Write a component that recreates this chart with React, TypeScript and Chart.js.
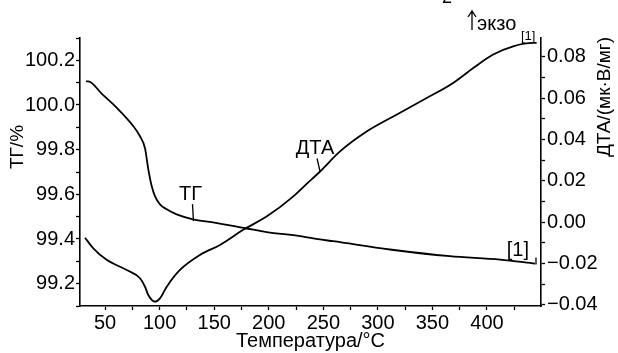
import React, { useEffect, useRef } from "react";
import { Chart, registerables } from "chart.js";

Chart.register(...registerables);

// ---- data ----
const tgTemp = [32.5, 34.6, 47, 60.6, 75.9, 82, 86.6, 89.6, 92.7, 95.7, 100.3, 106.5, 115.6, 130.6, 148.9, 179.8, 198.1, 228.6, 247, 259, 311, 366, 412, 444];
const tgVal = [100.106, 100.106, 100.05, 99.988, 99.905, 99.86, 99.806, 99.712, 99.637, 99.592, 99.555, 99.533, 99.51, 99.488, 99.474, 99.447, 99.431, 99.413, 99.398, 99.39, 99.353, 99.323, 99.308, 99.29];

const dtaTemp = [31.6, 39.2, 51.4, 69.8, 82, 86.6, 89.6, 95.7, 100.3, 106.5, 118.6, 137, 155.3, 176.6, 198, 222, 234.7, 247, 265.3, 289.7, 314.1, 344.7, 369, 387.4, 405.7, 424, 442.4, 445.5];
const dtaVal = [-0.0075, -0.0126, -0.0182, -0.0231, -0.0271, -0.0312, -0.0352, -0.0384, -0.0368, -0.0312, -0.0231, -0.0158, -0.011, -0.0037, 0.0027, 0.0122, 0.0185, 0.0245, 0.0342, 0.0438, 0.0511, 0.06, 0.0673, 0.0745, 0.081, 0.085, 0.0866, 0.0866];

const xMin = 27, xMax = 449.5, xStep = 25, xLabelStep = 50;
const tgMin = 99.1, tgMax = 100.3, tgStep = 0.1;
const dtaMin = -0.0405, dtaMax = 0.089, dtaStep = 0.01;

const xTitle = "Температура/°C";
const tgTitle = "ТГ/%";
const dtaTitle = "ДТА/(мк·В/мг)";
const tgLabel = "ТГ";
const dtaLabel = "ДТА";
const tgLabelAt = { x: 131, y: 99.48 };
const dtaLabelAt = { x: 247, y: 0.0245 };
const endLabel = "[1]";
const exoLabel = "экзо";
const exoSub = "[1]";

const FONT = "'Liberation Sans', Arial, sans-serif";

const annotations = {
  id: "annotations",
  afterDraw(chart: any) {
    const ctx = chart.ctx;
    const xs = chart.scales.x;
    const yl = chart.scales.yTG;
    const yr = chart.scales.yDTA;
    const area = chart.chartArea;
    ctx.save();
    ctx.fillStyle = "#000";
    ctx.strokeStyle = "#000";
    ctx.lineWidth = 1.3;

    // axis titles
    ctx.font = `20px ${FONT}`;
    ctx.textAlign = "center";
    ctx.textBaseline = "middle";
    ctx.fillText(xTitle, (area.left + area.right) / 2, 341);

    ctx.save();
    ctx.font = `19px ${FONT}`;
    ctx.translate(18, 147);
    ctx.rotate(-Math.PI / 2);
    ctx.fillText(tgTitle, 0, 0);
    ctx.restore();

    ctx.save();
    ctx.font = `19px ${FONT}`;
    ctx.translate(605, 97);
    ctx.rotate(-Math.PI / 2);
    ctx.fillText(dtaTitle, 0, 0);
    ctx.restore();

    // ТГ label with pointer
    const tx = xs.getPixelForValue(tgLabelAt.x);
    const ty = yl.getPixelForValue(tgLabelAt.y);
    ctx.beginPath();
    ctx.moveTo(tx - 1, ty - 17);
    ctx.lineTo(tx, ty);
    ctx.stroke();
    ctx.font = `20px ${FONT}`;
    ctx.fillText(tgLabel, tx - 3, ty - 27);

    // ДТА label with pointer
    const dx = xs.getPixelForValue(dtaLabelAt.x);
    const dy = yr.getPixelForValue(dtaLabelAt.y);
    ctx.beginPath();
    ctx.moveTo(dx - 3, dy - 13);
    ctx.lineTo(dx, dy);
    ctx.stroke();
    ctx.fillText(dtaLabel, dx - 5, dy - 23);

    // end marker [1]
    const ex = xs.getPixelForValue(tgTemp[tgTemp.length - 1]);
    const ey = yl.getPixelForValue(tgVal[tgVal.length - 1]);
    ctx.beginPath();
    ctx.moveTo(ex + 1, ey - 6);
    ctx.lineTo(ex + 1, ey + 1);
    ctx.stroke();
    ctx.textAlign = "right";
    ctx.textBaseline = "alphabetic";
    ctx.fillText(endLabel, ex - 6, ey - 8);

    // exo arrow
    ctx.textAlign = "left";
    ctx.beginPath();
    ctx.moveTo(472, 30);
    ctx.lineTo(472, 12);
    ctx.moveTo(468, 17);
    ctx.lineTo(472, 11);
    ctx.lineTo(476, 17);
    ctx.stroke();
    ctx.font = `20px ${FONT}`;
    ctx.fillText(exoLabel, 477, 30);
    ctx.font = `13px ${FONT}`;
    ctx.fillText(exoSub, 521, 40);

    // cut-off "2" at the top
    ctx.font = `18px ${FONT}`;
    ctx.fillText("2", 442, 3);

    ctx.restore();
  },
};

export default function App() {
  const ref = useRef<HTMLCanvasElement | null>(null);

  useEffect(() => {
    if (!ref.current) return;
    const axisCommon = {
      grid: {
        drawOnChartArea: false,
        drawTicks: true,
        tickLength: 4,
        tickColor: "#000",
        tickWidth: 1.3,
      },
      border: { display: true, color: "#000", width: 1.6 },
    };
    const chart = new Chart(ref.current, {
      type: "line",
      data: {
        datasets: [
          {
            label: "ТГ",
            data: tgTemp.map((t, i) => ({ x: t, y: tgVal[i] })),
            yAxisID: "yTG",
            borderColor: "#000",
            borderWidth: 1.8,
            pointRadius: 0,
            cubicInterpolationMode: "monotone",
            fill: false,
          },
          {
            label: "ДТА",
            data: dtaTemp.map((t, i) => ({ x: t, y: dtaVal[i] })),
            yAxisID: "yDTA",
            borderColor: "#000",
            borderWidth: 1.8,
            pointRadius: 0,
            cubicInterpolationMode: "monotone",
            fill: false,
          },
        ],
      },
      options: {
        animation: false,
        responsive: true,
        maintainAspectRatio: false,
        layout: { padding: { top: 38, left: 0, right: 0, bottom: 0 } },
        plugins: {
          legend: { display: false },
          tooltip: { enabled: false },
          title: { display: false },
        },
        scales: {
          x: {
            type: "linear",
            min: xMin,
            max: xMax,
            ...axisCommon,
            ticks: {
              stepSize: xStep,
              includeBounds: false,
              autoSkip: false,
              maxRotation: 0,
              padding: 1,
              color: "#000",
              font: { family: FONT, size: 20 },
              callback: (v: any) => (Math.round(v) % xLabelStep === 0 ? String(Math.round(v)) : ""),
            },
            afterFit: (s: any) => {
              s.height = 47;
            },
          },
          yTG: {
            type: "linear",
            position: "left",
            min: tgMin,
            max: tgMax,
            ...axisCommon,
            ticks: {
              stepSize: tgStep,
              includeBounds: false,
              autoSkip: false,
              padding: 1,
              color: "#000",
              font: { family: FONT, size: 20 },
              callback: (v: any) => (Math.abs(Math.round(v * 10)) % 2 === 0 ? Number(v).toFixed(1) : ""),
            },
            afterFit: (s: any) => {
              s.width = 80;
            },
          },
          yDTA: {
            type: "linear",
            position: "right",
            min: dtaMin,
            max: dtaMax,
            ...axisCommon,
            ticks: {
              stepSize: dtaStep,
              includeBounds: false,
              autoSkip: false,
              padding: 2,
              color: "#000",
              font: { family: FONT, size: 20 },
              callback: (v: any) =>
                Math.abs(Math.round(v * 100)) % 2 === 0 ? Number(v).toFixed(2).replace("-", "\u2212") : "",
            },
            afterFit: (s: any) => {
              s.width = 77;
            },
          },
        },
      },
      plugins: [annotations],
    } as any);
    return () => chart.destroy();
  }, []);

  return (
    <div
      style={{
        position: "fixed",
        left: 0,
        top: 0,
        width: 618,
        height: 353,
        background: "#fff",
      }}
    >
      <canvas ref={ref} />
    </div>
  );
}
